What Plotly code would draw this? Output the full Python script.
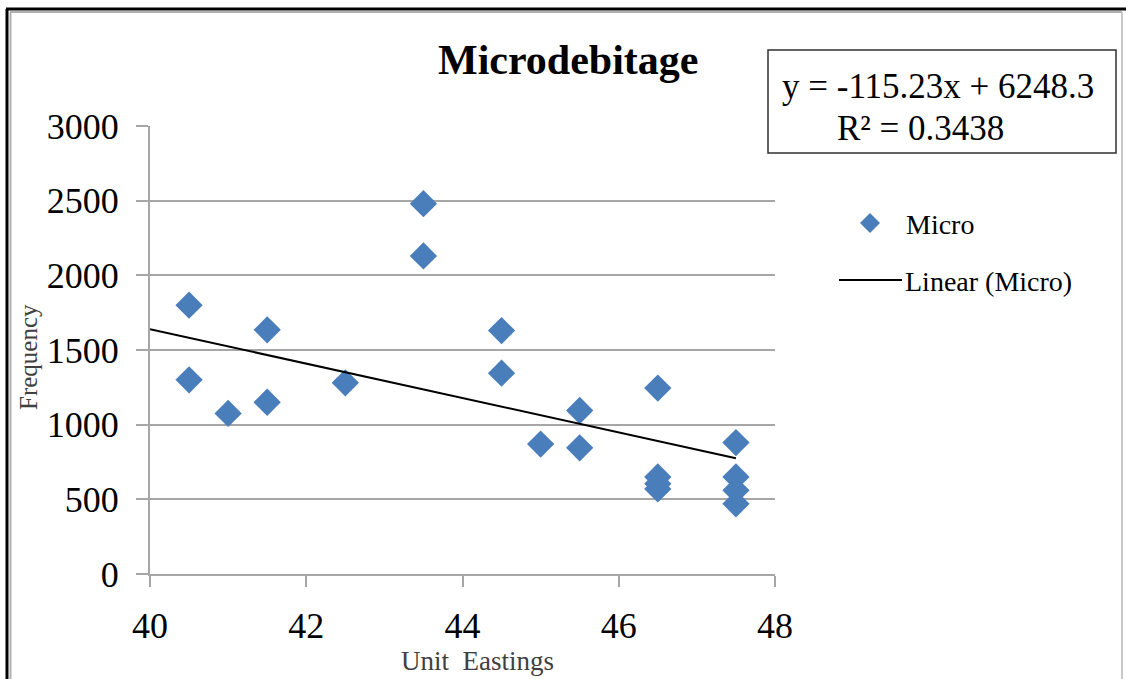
import plotly.graph_objects as go

# Data
eastings = [40.5, 40.5, 41.0, 41.5, 41.5, 42.5, 43.5, 43.5, 44.5, 44.5,
            45.0, 45.5, 45.5, 46.5, 46.5, 46.5, 46.5, 47.5, 47.5, 47.5, 47.5]
frequency = [1800, 1300, 1075, 1635, 1150, 1280, 2480, 2130, 1630, 1345,
             870, 1095, 845, 1245, 650, 605, 570, 880, 650, 560, 470]
trend_slope = -115.23
trend_intercept = 6248.3
trend_x = [40.0, 47.5]
x_ticks = [40, 42, 44, 46, 48]
y_ticks = [0, 500, 1000, 1500, 2000, 2500, 3000]

SERIF = "Liberation Serif, Times New Roman, serif"
BLUE = "#4a7ebb"
GRID = "#a6a6a6"

W, H = 1126, 679
L, R, T, B = 150, 775, 126, 574


def px(x):
    return (x - L) / (R - L)


def py(y):
    return (B - y) / (B - T)


fig = go.Figure()
fig.add_trace(go.Scatter(
    x=eastings, y=frequency, mode="markers", name="Micro",
    marker=dict(symbol="diamond", size=21, color=BLUE, line=dict(width=0)),
    showlegend=False, cliponaxis=False))
fig.add_trace(go.Scatter(
    x=trend_x, y=[trend_slope * v + trend_intercept for v in trend_x],
    mode="lines", name="Linear (Micro)", line=dict(color="black", width=2),
    showlegend=False))

shapes = []
# outer frame
shapes.append(dict(type="line", xref="paper", yref="paper", x0=px(6), x1=px(1126), y0=py(9), y1=py(9),
                   line=dict(color="black", width=3)))
shapes.append(dict(type="line", xref="paper", yref="paper", x0=px(7), x1=px(7), y0=py(9), y1=py(679),
                   line=dict(color="black", width=3)))
shapes.append(dict(type="line", xref="paper", yref="paper", x0=px(10), x1=px(1122), y0=py(12), y1=py(12),
                   line=dict(color="#b0b0b0", width=2)))
shapes.append(dict(type="line", xref="paper", yref="paper", x0=px(10.5), x1=px(10.5), y0=py(12), y1=py(679),
                   line=dict(color="#b0b0b0", width=2)))
shapes.append(dict(type="line", xref="paper", yref="paper", x0=px(1122), x1=px(1122), y0=py(12), y1=py(679),
                   line=dict(color="#c8c8c8", width=2)))
# equation box
shapes.append(dict(type="rect", xref="paper", yref="paper", x0=px(768), x1=px(1116), y0=py(50), y1=py(153),
                   line=dict(color="#303030", width=1.5), fillcolor="white"))
# legend line sample
shapes.append(dict(type="line", xref="paper", yref="paper", x0=px(839), x1=px(902), y0=py(280), y1=py(280),
                   line=dict(color="black", width=2)))
# legend diamond
cx, cy, hs = 870, 223, 10
shapes.append(dict(type="path", xref="paper", yref="paper",
                   path=f"M {px(cx - hs)} {py(cy)} L {px(cx)} {py(cy - hs)} L {px(cx + hs)} {py(cy)} L {px(cx)} {py(cy + hs)} Z",
                   fillcolor=BLUE, line=dict(width=0)))

annotations = [
    dict(text="<b>Microdebitage</b>", x=px(568), y=py(60), xref="paper", yref="paper",
         showarrow=False, font=dict(family=SERIF, size=42, color="black"), xanchor="center", yanchor="middle"),
    dict(text="y = -115.23x + 6248.3", x=px(938), y=py(86), xref="paper", yref="paper",
         showarrow=False, font=dict(family=SERIF, size=35, color="black"), xanchor="center", yanchor="middle"),
    dict(text="R² = 0.3438", x=px(920), y=py(128), xref="paper", yref="paper",
         showarrow=False, font=dict(family=SERIF, size=35, color="black"), xanchor="center", yanchor="middle"),
    dict(text="Micro", x=px(904), y=py(224), xref="paper", yref="paper",
         showarrow=False, font=dict(family=SERIF, size=28, color="black"), xanchor="left", yanchor="middle"),
    dict(text="Linear (Micro)", x=px(903), y=py(281), xref="paper", yref="paper",
         showarrow=False, font=dict(family=SERIF, size=28, color="black"), xanchor="left", yanchor="middle"),
    dict(text="Frequency", x=px(28), y=py(357), xref="paper", yref="paper", textangle=-90,
         showarrow=False, font=dict(family=SERIF, size=25, color="#404040"), xanchor="center", yanchor="middle"),
    dict(text="Unit  Eastings", x=px(477), y=py(661), xref="paper", yref="paper",
         showarrow=False, font=dict(family=SERIF, size=27, color="#404040"), xanchor="center", yanchor="middle"),
]

fig.update_layout(
    width=W, height=H,
    margin=dict(l=L, r=W - R, t=T, b=H - B, pad=0),
    paper_bgcolor="white", plot_bgcolor="white",
    shapes=shapes, annotations=annotations,
    showlegend=False,
    xaxis=dict(range=[40, 48], tickvals=x_ticks, ticktext=[str(v) for v in x_ticks],
               showgrid=False, zeroline=False, showline=True, linecolor=GRID, linewidth=2,
               ticks="outside", ticklen=11, tickwidth=2, tickcolor=GRID,
               tickfont=dict(family=SERIF, size=36, color="black"), ticklabelstandoff=8),
    yaxis=dict(range=[0, 3000], tickvals=y_ticks, ticktext=[str(v) for v in y_ticks],
               showgrid=True, gridcolor=GRID, gridwidth=2, zeroline=False,
               showline=True, linecolor=GRID, linewidth=2,
               ticks="outside", ticklen=12, tickwidth=2, tickcolor=GRID,
               tickfont=dict(family=SERIF, size=36, color="black"), ticklabelstandoff=10),
)

fig.write_html("out.html")
